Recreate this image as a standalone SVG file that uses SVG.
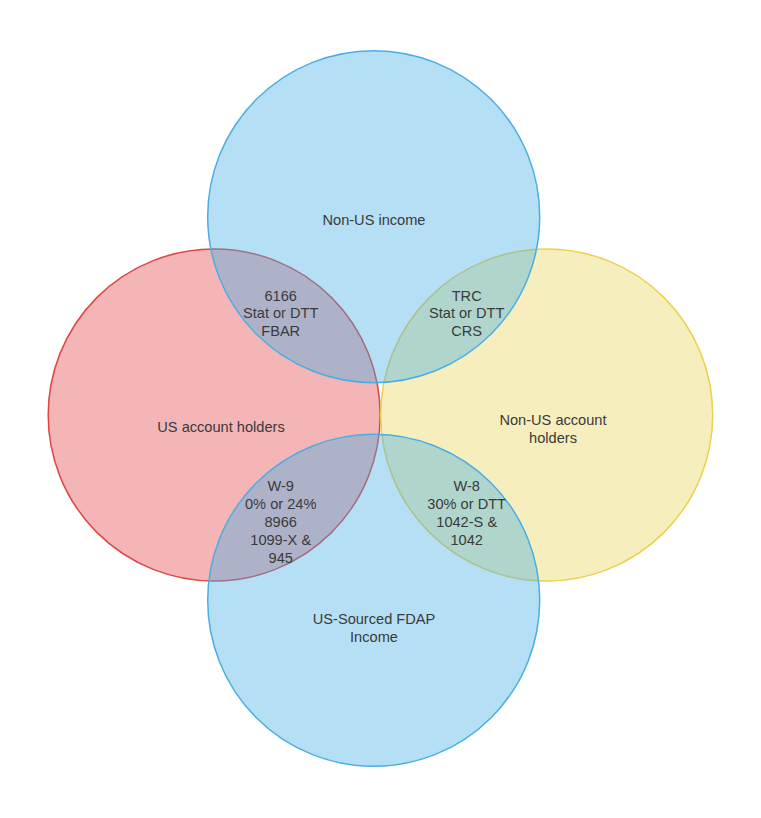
<svg xmlns="http://www.w3.org/2000/svg" width="761" height="818" viewBox="0 0 761 818">
<style>
.c{stroke-width:1.5;fill-opacity:0.4}
.blue{fill:#46afe6;stroke:#4aaee6}
.red{fill:#e04646;stroke:#e04444}
.yel{fill:#ebd45a;stroke:#ecd050}
text{font-family:"Liberation Sans",Arial,sans-serif;font-size:14.6px;fill:#3a3a3a;text-anchor:middle}
</style>
<rect width="761" height="818" fill="#ffffff"/>
<g id="us-account-holders">
<circle class="c red" cx="214.2" cy="415" r="166"/>
</g>
<g id="non-us-account-holders">
<circle class="c yel" cx="546.7" cy="415" r="166"/>
</g>
<g id="non-us-income">
<circle class="c blue" cx="373.7" cy="216.7" r="166"/>
</g>
<g id="us-sourced-fdap">
<circle class="c blue" cx="373.7" cy="600.3" r="166"/>
</g>
<g id="connectors"></g>
<g id="labels">
<text x="374" y="224.5">Non-US income</text>
<text x="221" y="432">US account holders</text>
<text x="553" y="425">Non-US account</text>
<text x="553" y="442.5">holders</text>
<text x="374" y="624">US-Sourced FDAP</text>
<text x="374" y="641.5">Income</text>
</g>
<g id="overlap-top-left">
<text x="280.7" y="300.5">6166</text>
<text x="280.7" y="318">Stat or DTT</text>
<text x="280.7" y="335.5">FBAR</text>
</g>
<g id="overlap-top-right">
<text x="466.7" y="300.5">TRC</text>
<text x="466.7" y="318">Stat or DTT</text>
<text x="466.7" y="335.5">CRS</text>
</g>
<g id="overlap-bottom-left">
<text x="280.7" y="491">W-9</text>
<text x="280.7" y="509">0% or 24%</text>
<text x="280.7" y="527">8966</text>
<text x="280.7" y="545">1099-X &amp;</text>
<text x="280.7" y="563">945</text>
</g>
<g id="overlap-bottom-right">
<text x="466.7" y="491">W-8</text>
<text x="466.7" y="509">30% or DTT</text>
<text x="466.7" y="527">1042-S &amp;</text>
<text x="466.7" y="545">1042</text>
</g>
</svg>
